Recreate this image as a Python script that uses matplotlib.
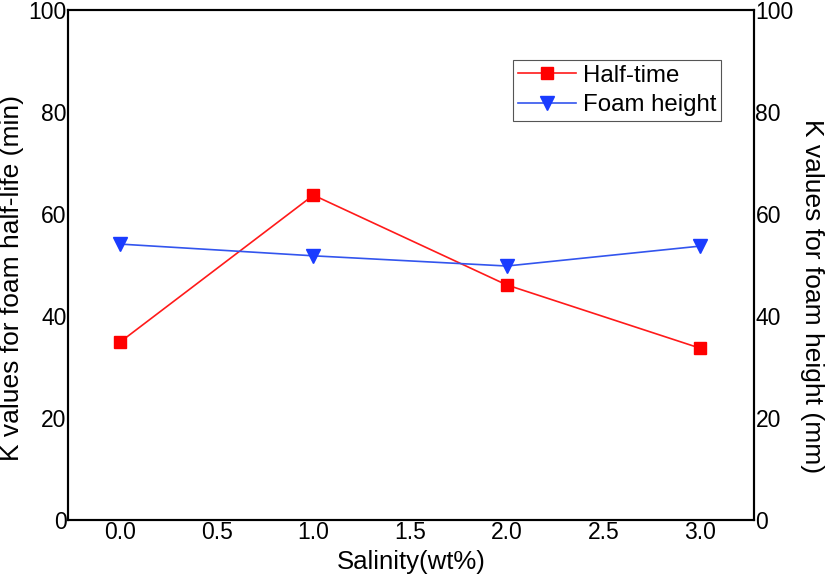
import matplotlib.pyplot as plt

salinity = [0.0, 1.0, 2.0, 3.0]
half_time = [34.9, 63.7, 46.1, 33.7]
foam_height = [54.1, 51.8, 49.8, 53.7]
x_ticks = [0.0, 0.5, 1.0, 1.5, 2.0, 2.5, 3.0]
y_ticks = [0, 20, 40, 60, 80, 100]

plt.rcParams['font.family'] = ['Liberation Sans', 'DejaVu Sans']

fig = plt.figure(figsize=(8.26, 5.81), dpi=100)
ax = fig.add_axes([68 / 826, 61 / 581, 686 / 826, 510 / 581])
ax2 = ax.twinx()

l1, = ax.plot(salinity, half_time, color='#ff1a1a', marker='s', markersize=8,
              markerfacecolor='#ff0000', markeredgecolor='#ff0000', lw=1.2, label='Half-time')
l2, = ax2.plot(salinity, foam_height, color='#3355ee', marker='v', markersize=10,
               markerfacecolor='#1a3cff', markeredgecolor='#1a3cff', lw=1.2, label='Foam height')

ax.set_xlim(-0.27, 3.28)
ax.set_ylim(0, 100)
ax2.set_ylim(0, 100)
ax.set_xticks(x_ticks)
ax.set_xticklabels([f'{v:.1f}' for v in x_ticks])
ax.set_yticks(y_ticks)
ax2.set_yticks(y_ticks)

for a in (ax, ax2):
    a.tick_params(length=0, labelsize=16.5, pad=1)
    for s in a.spines.values():
        s.set_linewidth(1.5)

ax.set_xlabel('Salinity(wt%)', fontsize=18.5)
ax.xaxis.set_label_coords(0.5, -0.058)
ax.set_ylabel('K values for foam half-life (min)', fontsize=19, va='center')
ax.yaxis.set_label_coords(-0.081, 0.475)
ax2.set_ylabel('K values for foam height (mm)', fontsize=19, rotation=270, va='center')
ax2.yaxis.set_label_coords(1.085, 0.44)

leg = ax.legend(handles=[l1, l2], loc='upper left', bbox_to_anchor=(0.649, 0.902),
                fontsize=17.3, frameon=True, fancybox=False, framealpha=1,
                edgecolor='#555555', handlelength=2.4, handletextpad=0.3,
                borderpad=0.2, labelspacing=0.3, borderaxespad=0)
leg.get_frame().set_linewidth(0.8)

fig.savefig('out.png', dpi=100)
